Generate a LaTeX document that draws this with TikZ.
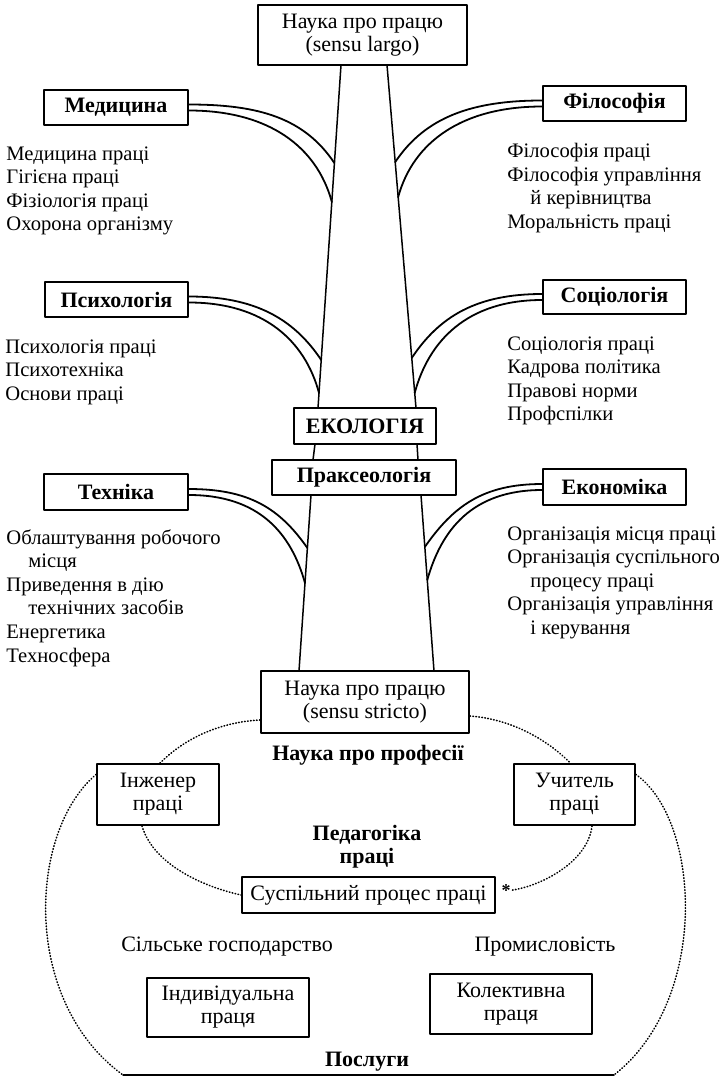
\documentclass[tikz,border=0pt]{standalone}
\usepackage{fontspec}
\setmainfont{Liberation Serif}
\usepackage{tikz}
\usetikzlibrary{calc}

\begin{document}
\begin{tikzpicture}[line cap=round,line join=round,x=0.5pt,y=-0.5pt,
    tbox/.style={draw,line width=0.9pt,inner sep=0pt,align=center,font=\fontsize{11}{11.5}\selectfont},
    hbox/.style={tbox,font=\fontsize{11}{11.5}\selectfont\bfseries},
    listtxt/.style={anchor=north west,inner sep=0pt,align=left,font=\fontsize{10.3}{11.8}\selectfont},
    plaintxt/.style={inner sep=0pt,font=\fontsize{11}{11.5}\selectfont},
    boldtxt/.style={inner sep=0pt,align=center,font=\fontsize{11}{11.5}\selectfont\bfseries},
    trunk/.style={line width=0.75pt},
    branch/.style={line width=0.9pt},
    dotline/.style={line width=0.8pt,dash pattern=on 0.3pt off 1.2pt}]
    \useasboundingbox (0,0) rectangle (727,1077);
    \node[tbox,minimum width=104.5pt,minimum height=30pt] (largo) at (362.5,35) {Наука про працю\\(sensu largo)};
    \node[hbox,minimum width=72pt,minimum height=17.5pt] (med) at (116,107.5) {Медицина};
    \node[hbox,minimum width=71.5pt,minimum height=17.5pt] (fil) at (614.5,103.5) {Філософія};
    \node[hbox,minimum width=71.5pt,minimum height=17.5pt] (psy) at (116.5,299.5) {Психологія};
    \node[hbox,minimum width=71.5pt,minimum height=17pt] (soc) at (614.5,297) {Соціологія};
    \node[hbox,minimum width=71pt,minimum height=18pt] (eko) at (365,426) {ЕКОЛОГІЯ};
    \node[hbox,minimum width=92pt,minimum height=17.5pt] (prax) at (364,477.5) {Праксеологія};
    \node[hbox,minimum width=72pt,minimum height=18pt] (tech) at (116,492) {Техніка};
    \node[hbox,minimum width=71.5pt,minimum height=18pt] (eco) at (614.5,487) {Економіка};
    \node[tbox,minimum width=104pt,minimum height=31pt] (stricto) at (365,702) {Наука про працю\\(sensu stricto)};
    \node[tbox,minimum width=61pt,minimum height=30.5pt] (inz) at (158,794.5) {Інженер\\праці};
    \node[tbox,minimum width=60.5pt,minimum height=30.5pt] (uch) at (574.5,794.5) {Учитель\\праці};
    \node[tbox,minimum width=126.5pt,minimum height=18pt] (susp) at (368.5,895) {Суспільний процес праці};
    \node[tbox,minimum width=81pt,minimum height=29.5pt] (ind) at (228,1007.5) {Індивідуальна\\праця};
    \node[tbox,minimum width=81pt,minimum height=30pt] (kol) at (511,1004) {Колективна\\праця};
    \node[listtxt] (medlist) at (6,146) {Медицина праці\\Гігієна праці\\Фізіологія праці\\Охорона організму};
    \node[listtxt] (fillist) at (507,143) {Філософія праці\\Філософія управління\\\hspace*{11.5pt}й керівництва\\Моральність праці};
    \node[listtxt] (psylist) at (5,339) {Психологія праці\\Психотехніка\\Основи праці};
    \node[listtxt] (soclist) at (507,336) {Соціологія праці\\Кадрова політика\\Правові норми\\Профспілки};
    \node[listtxt] (techlist) at (6,529) {Облаштування робочого\\\hspace*{11pt}місця\\Приведення в дію\\\hspace*{11pt}технічних засобів\\Енергетика\\Техносфера};
    \node[listtxt] (ecolist) at (507,526) {Організація місця праці\\Організація суспільного\\\hspace*{11.5pt}процесу праці\\Організація управління\\\hspace*{11.5pt}і керування};
    \node[boldtxt] (prof) at (368,755) {Наука про професії};
    \node[boldtxt] (ped) at (367,846.5) {Педагогіка\\праці};
    \node[plaintxt] (silg) at (227,947) {Сільське господарство};
    \node[plaintxt] (prom) at (545,947) {Промисловість};
    \node[boldtxt] (posl) at (367,1062) {Послуги};
    \node[inner sep=0.5pt,font=\fontsize{9}{9}\selectfont\bfseries] (ast) at (506,891) {*};
    \coordinate (tl1) at (341,65);
    \coordinate (tl2) at (318,408);
    \coordinate (tr1) at (387,65);
    \coordinate (tr2) at (416,408);
    \coordinate (ml1) at (315,444);
    \coordinate (ml2) at (313,460);
    \coordinate (mr1) at (417,444);
    \coordinate (mr2) at (418,460);
    \coordinate (bl1) at (311,495);
    \coordinate (bl2) at (299,671);
    \coordinate (br1) at (421,495);
    \coordinate (br2) at (434,671);
    \draw[trunk] (tl1) -- (tl2) (tr1) -- (tr2) (ml1) -- (ml2) (mr1) -- (mr2) (bl1) -- (bl2) (br1) -- (br2);
    \coordinate (jmed1) at ($(tl1)!0.286!(tl2)$);
    \coordinate (jmed2) at ($(tl1)!0.399!(tl2)$);
    \coordinate (jfil1) at ($(tr1)!0.283!(tr2)$);
    \coordinate (jfil2) at ($(tr1)!0.385!(tr2)$);
    \coordinate (jpsy1) at ($(tl1)!0.86!(tl2)$);
    \coordinate (jpsy2) at ($(tl1)!0.956!(tl2)$);
    \coordinate (jsoc1) at ($(tr1)!0.854!(tr2)$);
    \coordinate (jsoc2) at ($(tr1)!0.956!(tr2)$);
    \coordinate (jtech1) at ($(bl1)!0.301!(bl2)$);
    \coordinate (jtech2) at ($(bl1)!0.5!(bl2)$);
    \coordinate (jeco1) at ($(br1)!0.295!(br2)$);
    \coordinate (jeco2) at ($(br1)!0.483!(br2)$);
    \draw[branch] ([yshift=1.5pt]med.east) .. controls +(70,0) and +(-30,-45) .. (jmed1);
    \draw[branch] ([yshift=-1.5pt]med.east) .. controls +(80,0) and +(-15,-55) .. (jmed2);
    \draw[branch] ([yshift=1.5pt]fil.west) .. controls +(-70,0) and +(30,-45) .. (jfil1);
    \draw[branch] ([yshift=-1.5pt]fil.west) .. controls +(-80,0) and +(15,-55) .. (jfil2);
    \draw[branch] ([yshift=1.5pt]psy.east) .. controls +(65,0) and +(-28,-42) .. (jpsy1);
    \draw[branch] ([yshift=-1.5pt]psy.east) .. controls +(75,0) and +(-14,-52) .. (jpsy2);
    \draw[branch] ([yshift=1.5pt]soc.west) .. controls +(-65,0) and +(28,-42) .. (jsoc1);
    \draw[branch] ([yshift=-1.5pt]soc.west) .. controls +(-75,0) and +(14,-52) .. (jsoc2);
    \draw[branch] ([yshift=1.5pt]tech.east) .. controls +(60,0) and +(-28,-40) .. (jtech1);
    \draw[branch] ([yshift=-1.5pt]tech.east) .. controls +(70,0) and +(-14,-50) .. (jtech2);
    \draw[branch] ([yshift=1.5pt]eco.west) .. controls +(-60,0) and +(28,-40) .. (jeco1);
    \draw[branch] ([yshift=-1.5pt]eco.west) .. controls +(-70,0) and +(14,-50) .. (jeco2);
    \coordinate (bl) at (123,1075);
    \coordinate (br) at (614,1075);
    \draw[dotline] ([yshift=-9pt]stricto.west) .. controls +(-40,2) and +(25,-25) .. ([xshift=1pt]inz.north);
    \draw[dotline] ([yshift=-7pt]stricto.east) .. controls +(40,3) and +(-25,-25) .. ([xshift=-2pt]uch.north);
    \draw[dotline] ([yshift=10pt]inz.west) .. controls +(-67,56) and +(-103,-75) .. (bl);
    \draw[dotline] ([yshift=10pt]uch.east) .. controls +(65,46) and +(96,-75) .. (br);
    \draw[line width=0.75pt] (bl) -- (br);
    \draw[dotline] ([xshift=-8pt]inz.south) .. controls +(10,35) and +(-45,-10) .. (susp.west);
    \draw[dotline] ([xshift=8.75pt]uch.south) .. controls +(-4,36) and +(35,-5) .. (ast);
\end{tikzpicture}
\end{document}
